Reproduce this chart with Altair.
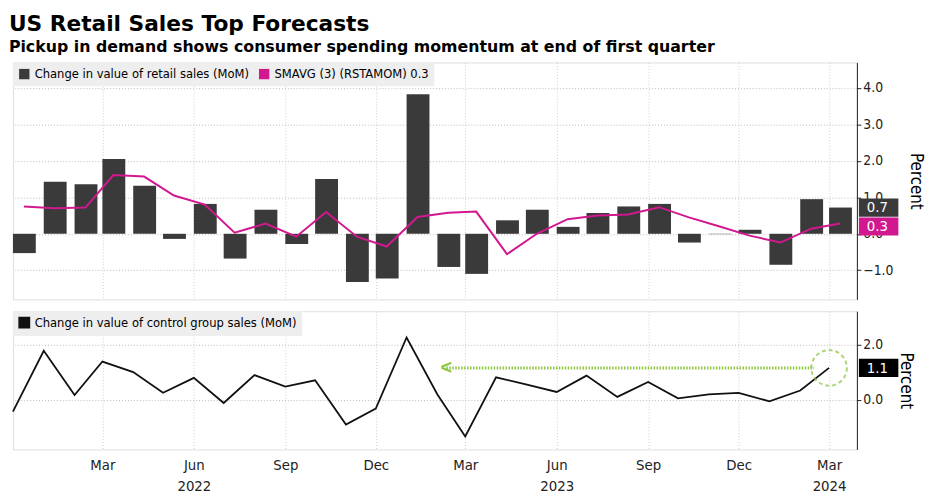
import altair as alt
import pandas as pd

months = pd.date_range("2021-12-01", "2024-03-01", freq="MS")
retail = [-0.53, 1.43, 1.36, 2.05, 1.32, -0.14, 0.82, -0.68, 0.66, -0.28, 1.5, -1.32, -1.23,
          3.83, -0.91, -1.1, 0.37, 0.66, 0.19, 0.57, 0.75, 0.82, -0.24, -0.01, 0.11, -0.85, 0.95, 0.72]
smavg = [0.75, 0.70, 0.72, 1.61, 1.57, 1.05, 0.8, 0.03, 0.28, -0.08, 0.6, -0.08, -0.35,
         0.46, 0.58, 0.61, -0.56, 0.0, 0.4, 0.5, 0.53, 0.73, 0.45, 0.2, -0.05, -0.24, 0.14, 0.28]
control = [-0.43, 1.77, 0.17, 1.38, 1.0, 0.25, 0.79, -0.12, 0.89, 0.47, 0.7, -0.9, -0.32,
           2.25, 0.19, -1.33, 0.81, 0.55, 0.28, 0.87, 0.1, 0.64, 0.05, 0.19, 0.25, -0.06, 0.33, 1.15]

L1 = "Change in value of retail sales (MoM)"
L2 = "SMAVG (3) (RSTAMOM) 0.3"
L3 = "Change in value of control group sales (MoM)"
FONT = "DejaVu Sans Condensed, DejaVu Sans"
W = 855

df = pd.DataFrame({"start": months, "end": months + pd.Timedelta(days=23),
                   "mid": months + pd.Timedelta(days=11),
                   "retail": retail, "smavg": smavg, "control": control})
df["s1"] = L1
df["s2"] = L2
df["s3"] = L3

xdom = [pd.Timestamp("2021-12-01").isoformat(), pd.Timestamp("2024-03-29").isoformat()]
xscale = alt.Scale(domain=xdom)
ticks = [d.isoformat() for d in pd.date_range("2022-03-01", "2024-03-01", freq="3MS")]

color_top = alt.Color("series:N", scale=alt.Scale(domain=[L1, L2], range=["#3a3a3a", "#d1188f"]),
                      legend=alt.Legend(title=None, orient="top-left", direction="horizontal",
                                        symbolType="square", symbolSize=110, labelFontSize=13,
                                        labelFont=FONT, labelLimit=0, fillColor="#eeeeee", padding=5,
                                        offset=0, symbolStrokeWidth=0, columnPadding=8))

xtop = alt.X("start:T", scale=xscale,
             axis=alt.Axis(values=ticks, labels=False, ticks=False, domain=False, title=None,
                           grid=True, gridDash=[1, 2], gridColor="#cccccc"))
ytop = alt.Y("retail:Q", scale=alt.Scale(domain=[-1.8, 4.7], nice=False),
             axis=alt.Axis(orient="right", values=[-1, 0, 1, 2, 3, 4], format=".1f",
                           title="Percent", titleAngle=90, titleFontSize=17, titleFont=FONT,
                           titleFontWeight="normal", titlePadding=14,
                           labelFontSize=14, labelFont=FONT, labelColor="#222",
                           gridDash=[1, 2], gridColor="#bbbbbb", domainColor="#222",
                           tickColor="#222", tickSize=4))

bars = alt.Chart(df).transform_calculate(series="datum.s1").mark_rect(color="#3a3a3a").encode(
    x=xtop, x2="end:T", y=ytop, y2=alt.datum(0), color=color_top)
line = alt.Chart(df).transform_calculate(series="datum.s2").mark_line(strokeWidth=2).encode(
    x=alt.X("mid:T", scale=xscale), y="smavg:Q", color=color_top)

badges = pd.DataFrame({"v": [0.72, 0.2], "t": ["0.7", "0.3"], "c": ["#3a3a3a", "#d1188f"]})
badges["lo"] = badges["v"] - 0.25
badges["hi"] = badges["v"] + 0.25
brect = alt.Chart(badges).mark_rect(clip=False).encode(
    x=alt.value(W + 2), x2=alt.value(W + 42), y="lo:Q", y2="hi:Q",
    color=alt.Color("c:N", scale=None))
btext = alt.Chart(badges).mark_text(clip=False, color="white", fontSize=15, font=FONT, align="left").encode(
    x=alt.value(W + 10), y="v:Q", text="t:N")

top = alt.layer(bars, line, brect, btext).properties(width=W, height=240)

color_bot = alt.Color("s3:N", scale=alt.Scale(domain=[L3], range=["#111111"]),
                      legend=alt.Legend(title=None, orient="top-left", symbolType="square",
                                        symbolSize=110, labelFontSize=13, labelFont=FONT,
                                        labelLimit=0, symbolFillColor="#111111",
                                        fillColor="#eeeeee", padding=5, offset=0))
label_expr = ("month(datum.value)==5 || (year(datum.value)==2024 && month(datum.value)==2) ? "
              "[timeFormat(datum.value,'%b'), timeFormat(datum.value,'%Y')] : timeFormat(datum.value,'%b')")
xbot = alt.X("start:T", scale=xscale,
             axis=alt.Axis(values=ticks, labelExpr=label_expr, title=None, grid=True,
                           gridDash=[1, 2], gridColor="#cccccc", domain=False, ticks=False,
                           labelFontSize=15, labelFont=FONT, labelColor="#222", labelPadding=8,
                           labelLineHeight=22))
ybot = alt.Y("control:Q", scale=alt.Scale(domain=[-1.8, 3.2], nice=False),
             axis=alt.Axis(orient="right", values=[0, 2], format=".1f",
                           title="Percent", titleAngle=90, titleFontSize=17, titleFont=FONT,
                           titleFontWeight="normal", titlePadding=14,
                           labelFontSize=14, labelFont=FONT, labelColor="#222",
                           gridDash=[1, 2], gridColor="#bbbbbb", domainColor="#222",
                           tickColor="#222", tickSize=4))
cline = alt.Chart(df).mark_line(strokeWidth=1.8).encode(x=xbot, y=ybot, color=color_bot)

last = df.tail(1)
circle = alt.Chart(last).mark_point(shape="circle", size=1300, color="#8cc63f", strokeWidth=2,
                                    strokeDash=[4, 3], filled=False).encode(
    x=alt.X("start:T", scale=xscale), y="control:Q")
arrow_df = pd.DataFrame({"a": [pd.Timestamp("2023-02-10")], "b": [pd.Timestamp("2024-02-15")], "v": [1.15]})
arrow = alt.Chart(arrow_df).mark_rule(color="#8cc63f", strokeWidth=3, strokeDash=[1.5, 1.5]).encode(
    x=alt.X("a:T", scale=xscale), x2="b:T", y="v:Q")
head = alt.Chart(arrow_df).mark_text(text="<", color="#8cc63f", fontSize=20, fontWeight="bold").encode(
    x=alt.X("a:T", scale=xscale), y="v:Q")
cb = pd.DataFrame({"v": [1.15], "t": ["1.1"]})
cb["lo"] = cb["v"] - 0.33
cb["hi"] = cb["v"] + 0.33
cbr = alt.Chart(cb).mark_rect(clip=False, color="#000000").encode(
    x=alt.value(W + 2), x2=alt.value(W + 42), y="lo:Q", y2="hi:Q")
cbt = alt.Chart(cb).mark_text(clip=False, color="white", fontSize=15, font=FONT, align="left").encode(
    x=alt.value(W + 10), y="v:Q", text="t:N")

bottom = alt.layer(cline, arrow, head, circle, cbr, cbt).properties(width=W, height=140)

chart = alt.vconcat(top, bottom, spacing=10).resolve_scale(color="independent").properties(
    title=alt.TitleParams("US Retail Sales Top Forecasts",
                          subtitle="Pickup in demand shows consumer spending momentum at end of first quarter",
                          anchor="start", font="DejaVu Sans", fontSize=22, fontWeight="bold",
                          subtitleFont="DejaVu Sans", subtitleFontSize=16, subtitleFontWeight="bold",
                          subtitleColor="#000", offset=6)
).configure_view(stroke=None).configure(padding={"left": 0, "top": 2, "right": 0, "bottom": 0})

chart.save("out.html", embed_options={"renderer": "svg", "actions": False})
